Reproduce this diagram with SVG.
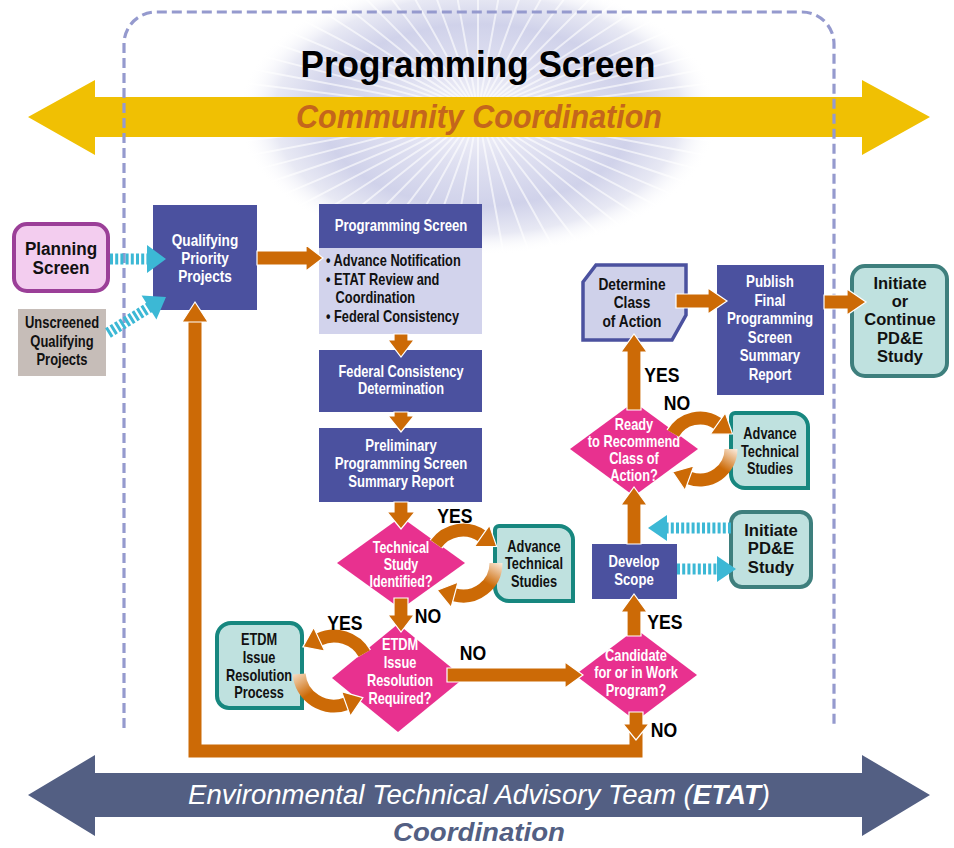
<svg xmlns="http://www.w3.org/2000/svg" width="954" height="848" viewBox="0 0 954 848">
<defs>
<style>
.t{font-family:'Liberation Sans',Arial,sans-serif;font-weight:bold;text-anchor:middle}
.tl{font-family:'Liberation Sans',Arial,sans-serif;font-weight:bold;text-anchor:start}
.w{fill:#fff}
.k{fill:#111}
.ind{fill:#4b519f}
.dia{fill:#e8318f}
.teal{fill:#bfe1df;stroke:#17877f;stroke-width:4}
.teal2{fill:#bfe1df;stroke:#3e7f7d;stroke-width:4}
.or{fill:#cc6a06;stroke:#fff;stroke-width:1.2}
.arc{fill:none;stroke:#cc6a06;stroke-width:13}
.arcw{fill:none;stroke:#fff;stroke-width:15.5}
.dot{fill:none;stroke:#3cb8d5;stroke-width:11;stroke-dasharray:3 2.2}
.doth{fill:#3cb8d5}
.lbl{font-family:'Liberation Sans',Arial,sans-serif;font-weight:bold;text-anchor:middle;fill:#000}
</style>
<radialGradient id="glow" cx="0.5" cy="0.5" r="0.5">
<stop offset="0" stop-color="#f6f6fb"/>
<stop offset="0.35" stop-color="#dfe0f1"/>
<stop offset="0.65" stop-color="#d0d2ea"/>
<stop offset="0.85" stop-color="#e8e9f4"/>
<stop offset="1" stop-color="#ffffff" stop-opacity="0"/>
</radialGradient>
<clipPath id="glowclip"><ellipse cx="478" cy="115" rx="240" ry="140"/></clipPath>
<linearGradient id="g1" gradientUnits="userSpaceOnUse" x1="496" y1="560" x2="476" y2="596">
<stop offset="0" stop-color="#fbeadb"/><stop offset="0.6" stop-color="#cc6a06"/>
</linearGradient>
<linearGradient id="g2" gradientUnits="userSpaceOnUse" x1="300" y1="666" x2="326" y2="706">
<stop offset="0" stop-color="#fbeadb"/><stop offset="0.6" stop-color="#cc6a06"/>
</linearGradient>
<linearGradient id="g3" gradientUnits="userSpaceOnUse" x1="731" y1="446" x2="710" y2="480">
<stop offset="0" stop-color="#fbeadb"/><stop offset="0.6" stop-color="#cc6a06"/>
</linearGradient>
</defs>

<rect width="954" height="848" fill="#fff"/>

<!-- sunburst -->
<g id="sunburst">
<ellipse cx="478" cy="115" rx="240" ry="140" fill="url(#glow)"/>
<path clip-path="url(#glowclip)" fill="none" stroke="#fff" stroke-width="2" stroke-opacity="0.6" d="M718,112 L238,112 M716.7,126.6 L239.3,97.4 M712.7,141.1 L243.3,82.9 M706.3,155.3 L249.7,68.7 M697.2,168.9 L258.8,55.1 M685.8,182 L270.2,42 M672.2,194.3 L283.8,29.7 M656.3,205.7 L299.7,18.3 M638.6,216 L317.4,8 M619.1,225.3 L336.9,-1.3 M598,233.2 L358,-9.2 M575.6,239.9 L380.4,-15.9 M552.2,245.2 L403.8,-21.2 M527.9,248.9 L428.1,-24.9 M503.1,251.2 L452.9,-27.2 M478,252 L478,-28 M452.9,251.2 L503.1,-27.2 M428.1,248.9 L527.9,-24.9 M403.8,245.2 L552.2,-21.2 M380.4,239.9 L575.6,-15.9 M358,233.2 L598,-9.2 M336.9,225.3 L619.1,-1.3 M317.4,216 L638.6,8 M299.7,205.7 L656.3,18.3 M283.8,194.3 L672.2,29.7 M270.2,182 L685.8,42 M258.8,168.9 L697.2,55.1 M249.7,155.3 L706.3,68.7 M243.3,141.1 L712.7,82.9 M239.3,126.6 L716.7,97.4"/>
</g>

<!-- community coordination arrow -->
<g id="community-arrow">
<polygon fill="#f0c003" points="28,117 95,80 95,97 862,97 862,80 930,117 862,155 862,137 95,137 95,155"/>
</g>

<!-- ETAT arrow -->
<g id="etat-arrow">
<polygon fill="#535f83" points="28,795 95,755 95,773 862,773 862,755 930,795 862,836 862,817 95,817 95,836"/>
<text x="479" y="804" font-family="'Liberation Sans',Arial,sans-serif" font-size="27" font-style="italic" fill="#fff" text-anchor="middle" textLength="582" lengthAdjust="spacingAndGlyphs">Environmental Technical Advisory Team (<tspan font-weight="bold">ETAT</tspan>)</text>
<text x="479" y="841" font-family="'Liberation Sans',Arial,sans-serif" font-size="25" font-style="italic" font-weight="bold" fill="#535f83" text-anchor="middle" textLength="172" lengthAdjust="spacingAndGlyphs">Coordination</text>
</g>

<!-- dashed border -->
<path id="programming-screen-border" d="M124,728 V44 A32,32 0 0 1 156,12 H802 A32,32 0 0 1 834,44 V728" fill="none" stroke="#959ace" stroke-width="3.2" stroke-dasharray="10 5"/>

<g id="titles">
<text x="478" y="77" font-family="'Liberation Sans',Arial,sans-serif" font-size="36" font-weight="bold" fill="#000" text-anchor="middle" textLength="355" lengthAdjust="spacingAndGlyphs">Programming Screen</text>
<text x="479" y="128" font-family="'Liberation Sans',Arial,sans-serif" font-size="34" font-style="italic" font-weight="bold" fill="#c4661c" text-anchor="middle" textLength="366" lengthAdjust="spacingAndGlyphs">Community Coordination</text>
</g>

<!-- nodes -->
<g id="planning-screen">
<rect x="14" y="224" width="94" height="67" rx="13" fill="#f3cdef" stroke="#9b3f98" stroke-width="4"/>
<text class="t k" font-size="19" transform="matrix(0.9 0 0 1 61 0)"><tspan x="0" y="255">Planning</tspan><tspan x="0" y="274">Screen</tspan></text>
</g>

<g id="unscreened-projects">
<rect x="18" y="309" width="88" height="67" fill="#c6bdb8"/>
<text class="t k" font-size="16" transform="matrix(0.81 0 0 1 62 0)"><tspan x="0" y="328">Unscreened</tspan><tspan x="0" y="347">Qualifying</tspan><tspan x="0" y="365">Projects</tspan></text>
</g>

<g id="qualifying-priority-projects">
<rect class="ind" x="153" y="205" width="104" height="105"/>
<text class="t w" font-size="17" transform="matrix(0.8 0 0 1 205 0)"><tspan x="0" y="246">Qualifying</tspan><tspan x="0" y="264">Priority</tspan><tspan x="0" y="282">Projects</tspan></text>
</g>

<g id="programming-screen">
<rect class="ind" x="319" y="204" width="163" height="44"/>
<rect x="319" y="248" width="163" height="86" fill="#d2d3ec"/>
<text class="t w" font-size="16" transform="matrix(0.82 0 0 1 401 0)"><tspan x="0" y="231">Programming Screen</tspan></text>
<text class="tl k" font-size="16" transform="matrix(0.8 0 0 1 326 0)"><tspan x="0" y="266">• Advance Notification</tspan><tspan x="0" y="285">• ETAT Review and</tspan><tspan x="12" y="303">Coordination</tspan><tspan x="0" y="322">• Federal Consistency</tspan></text>
</g>

<g id="federal-consistency-determination">
<rect class="ind" x="319" y="350" width="163" height="62"/>
<text class="t w" font-size="16" transform="matrix(0.8 0 0 1 401 0)"><tspan x="0" y="377">Federal Consistency</tspan><tspan x="0" y="394">Determination</tspan></text>
</g>

<g id="preliminary-report">
<rect class="ind" x="319" y="428" width="163" height="74"/>
<text class="t w" font-size="16" transform="matrix(0.82 0 0 1 401 0)"><tspan x="0" y="451">Preliminary</tspan><tspan x="0" y="469">Programming Screen</tspan><tspan x="0" y="487">Summary Report</tspan></text>
</g>

<g id="technical-study-identified">
<polygon class="dia" points="401,517 465,563 401,609 337,563"/>
<text class="t w" font-size="16" transform="matrix(0.78 0 0 1 401 0)"><tspan x="0" y="553">Technical</tspan><tspan x="0" y="570">Study</tspan><tspan x="0" y="587">Identified?</tspan></text>
</g>

<g id="advance-technical-studies-1">
<path class="teal" d="M499,526 H559 A14,14 0 0 1 573,540 V601 H509 A14,14 0 0 1 495,587 V530 A4,4 0 0 1 499,526 Z"/>
<text class="t k" font-size="16" transform="matrix(0.8 0 0 1 534 0)"><tspan x="0" y="552">Advance</tspan><tspan x="0" y="569">Technical</tspan><tspan x="0" y="587">Studies</tspan></text>
</g>

<g id="etdm-issue-resolution-required">
<polygon class="dia" points="398,624 464,678 398,732 332,678"/>
<text class="t w" font-size="16" transform="matrix(0.8 0 0 1 400 0)"><tspan x="0" y="650">ETDM</tspan><tspan x="0" y="668">Issue</tspan><tspan x="0" y="686">Resolution</tspan><tspan x="0" y="704">Required?</tspan></text>
</g>

<g id="etdm-issue-resolution-process">
<path class="teal" d="M231,623 H290 A12,12 0 0 1 302,635 V708 H229 A12,12 0 0 1 217,696 V637 A14,14 0 0 1 231,623 Z"/>
<text class="t k" font-size="16" transform="matrix(0.8 0 0 1 259 0)"><tspan x="0" y="645">ETDM</tspan><tspan x="0" y="663">Issue</tspan><tspan x="0" y="681">Resolution</tspan><tspan x="0" y="698">Process</tspan></text>
</g>

<g id="candidate-work-program">
<polygon class="dia" points="636,629 697,675 636,721 575,675"/>
<text class="t w" font-size="16" transform="matrix(0.8 0 0 1 636 0)"><tspan x="0" y="661">Candidate</tspan><tspan x="0" y="678">for or in Work</tspan><tspan x="0" y="696">Program?</tspan></text>
</g>

<g id="develop-scope">
<rect class="ind" x="592" y="544" width="85" height="55"/>
<text class="t w" font-size="16" transform="matrix(0.82 0 0 1 634 0)"><tspan x="0" y="567">Develop</tspan><tspan x="0" y="585">Scope</tspan></text>
</g>

<g id="initiate-pde-study">
<rect class="teal2" x="731" y="512" width="80" height="75" rx="11"/>
<text class="t k" font-size="17" transform="matrix(0.98 0 0 1 771 0)"><tspan x="0" y="536">Initiate</tspan><tspan x="0" y="554">PD&amp;E</tspan><tspan x="0" y="573">Study</tspan></text>
</g>

<g id="ready-to-recommend">
<polygon class="dia" points="634,402 698,449 634,496 570,449"/>
<text class="t w" font-size="16" transform="matrix(0.8 0 0 1 634 0)"><tspan x="0" y="430">Ready</tspan><tspan x="0" y="447">to Recommend</tspan><tspan x="0" y="464">Class of</tspan><tspan x="0" y="481">Action?</tspan></text>
</g>

<g id="advance-technical-studies-2">
<path class="teal" d="M735,413 H794 A14,14 0 0 1 808,427 V488 H745 A14,14 0 0 1 731,474 V417 A4,4 0 0 1 735,413 Z"/>
<text class="t k" font-size="16" transform="matrix(0.8 0 0 1 770 0)"><tspan x="0" y="439">Advance</tspan><tspan x="0" y="457">Technical</tspan><tspan x="0" y="474">Studies</tspan></text>
</g>

<g id="determine-class-of-action">
<polygon points="596,265 686,265 686,315 672,340 583,340 583,282" fill="#cfd1ea" stroke="#4b519f" stroke-width="3.5"/>
<text class="t k" font-size="16" transform="matrix(0.86 0 0 1 632 0)"><tspan x="0" y="290">Determine</tspan><tspan x="0" y="308">Class</tspan><tspan x="0" y="327">of Action</tspan></text>
</g>

<g id="publish-final-report">
<rect class="ind" x="717" y="265" width="107" height="130"/>
<text class="t w" font-size="16" transform="matrix(0.83 0 0 1 770 0)"><tspan x="0" y="287">Publish</tspan><tspan x="0" y="306">Final</tspan><tspan x="0" y="324">Programming</tspan><tspan x="0" y="343">Screen</tspan><tspan x="0" y="361">Summary</tspan><tspan x="0" y="380">Report</tspan></text>
</g>

<g id="initiate-or-continue-pde">
<rect class="teal2" x="852" y="266" width="95" height="110" rx="13"/>
<text class="t k" font-size="17" transform="matrix(0.97 0 0 1 900 0)"><tspan x="0" y="289">Initiate</tspan><tspan x="0" y="307">or</tspan><tspan x="0" y="325">Continue</tspan><tspan x="0" y="344">PD&amp;E</tspan><tspan x="0" y="362">Study</tspan></text>
</g>

<!-- connectors -->
<g id="connectors">
<line class="dot" x1="110" y1="259" x2="148" y2="259"/>
<polygon class="doth" points="147,245 166,259 147,273"/>
<line class="dot" x1="108" y1="333" x2="150" y2="307"/>
<polygon class="doth" points="141.6,295.6 166,297 156.4,319.4"/>
<line class="dot" x1="731" y1="528" x2="666" y2="528"/>
<polygon class="doth" points="667,515 648,528 667,541"/>
<line class="dot" x1="677" y1="569" x2="718" y2="569"/>
<polygon class="doth" points="717,556 736,569 717,582"/>

<polygon class="or" points="257,251 306,251 306,245 323,258 306,271 306,265 257,265"/>
<polygon class="or" points="394,334 408,334 408,340 414,340 401,357 388,340 394,340"/>
<polygon class="or" points="394,412 408,412 408,416 414,416 401,432 388,416 394,416"/>
<polygon class="or" points="394,502 408,502 408,512 415,512 401,529 387,512 394,512"/>
<polygon class="or" points="394,598 408,598 408,615 414,615 401,632 388,615 394,615"/>
<polygon class="or" points="447,668 565,668 565,662 583,675 565,688 565,682 447,682"/>
<polygon class="or" points="627,636 641,636 641,612 647,612 634,594 621,612 627,612"/>

<path d="M636,733 V751 H195 V320" fill="none" stroke="#fff" stroke-width="16"/>
<path d="M636,733 V751 H195 V320" fill="none" stroke="#cc6a06" stroke-width="13"/>
<polygon class="or" points="182,322 195,302 208,322"/>
<polygon class="or" points="629,712 643,712 643,724 649,724 636,740 623,724 629,724"/>

<polygon class="or" points="627,544 641,544 641,505 647,505 634,487 621,505 627,505"/>
<polygon class="or" points="627,410 641,410 641,352 647,352 634,334 621,352 627,352"/>
<polygon class="or" points="676,294 708,294 708,288 727,301 708,314 708,308 676,308"/>
<polygon class="or" points="824,295 847,295 847,289 866,302 847,315 847,309 824,309"/>

<!-- technical study loop -->
<path class="arcw" d="M436,544.1 A33,33 0 0 1 481.9,536"/>
<path class="arc" d="M436,544.1 A33,33 0 0 1 481.9,536"/>
<polygon class="or" points="474.4,546.6 496.6,546.3 489.4,525.4"/>
<path class="arc" d="M496,563 A33,33 0 0 1 454.5,594.9" style="stroke:url(#g1)"/>
<polygon class="or" points="457.9,582.3 437.1,590.2 451.1,607.5"/>

<!-- ETDM loop -->
<path class="arcw" d="M364.3,653.5 A35,35 0 0 0 319.2,639.3"/>
<path class="arc" d="M364.3,653.5 A35,35 0 0 0 319.2,639.3"/>
<polygon class="or" points="324.7,651.1 302.9,646.9 313.7,627.5"/>
<path class="arc" d="M299.1,674 A35,35 0 0 0 346,703.9" style="stroke:url(#g2)"/>
<polygon class="or" points="350.4,716.1 362.9,697.7 341.6,691.7"/>

<!-- ready loop -->
<path class="arcw" d="M673.2,433.5 A31,31 0 0 1 717.8,423.6"/>
<path class="arc" d="M673.2,433.5 A31,31 0 0 1 717.8,423.6"/>
<polygon class="or" points="710.3,434.2 732.5,433.9 725.3,413"/>
<path class="arc" d="M731,449 A31,31 0 0 1 689.4,478.1" style="stroke:url(#g3)"/>
<polygon class="or" points="693.8,465.9 672.5,471.9 685,490.3"/>
</g>

<!-- labels -->
<g id="labels">
<text class="lbl" font-size="21" transform="matrix(0.84 0 0 1 455 0)" x="0" y="523">YES</text>
<text class="lbl" font-size="21" transform="matrix(0.84 0 0 1 428 0)" x="0" y="623">NO</text>
<text class="lbl" font-size="21" transform="matrix(0.84 0 0 1 345 0)" x="0" y="630">YES</text>
<text class="lbl" font-size="21" transform="matrix(0.84 0 0 1 473 0)" x="0" y="660">NO</text>
<text class="lbl" font-size="21" transform="matrix(0.84 0 0 1 665 0)" x="0" y="629">YES</text>
<text class="lbl" font-size="21" transform="matrix(0.84 0 0 1 664 0)" x="0" y="737">NO</text>
<text class="lbl" font-size="21" transform="matrix(0.84 0 0 1 662 0)" x="0" y="382">YES</text>
<text class="lbl" font-size="21" transform="matrix(0.84 0 0 1 677 0)" x="0" y="410">NO</text>
</g>
</svg>
